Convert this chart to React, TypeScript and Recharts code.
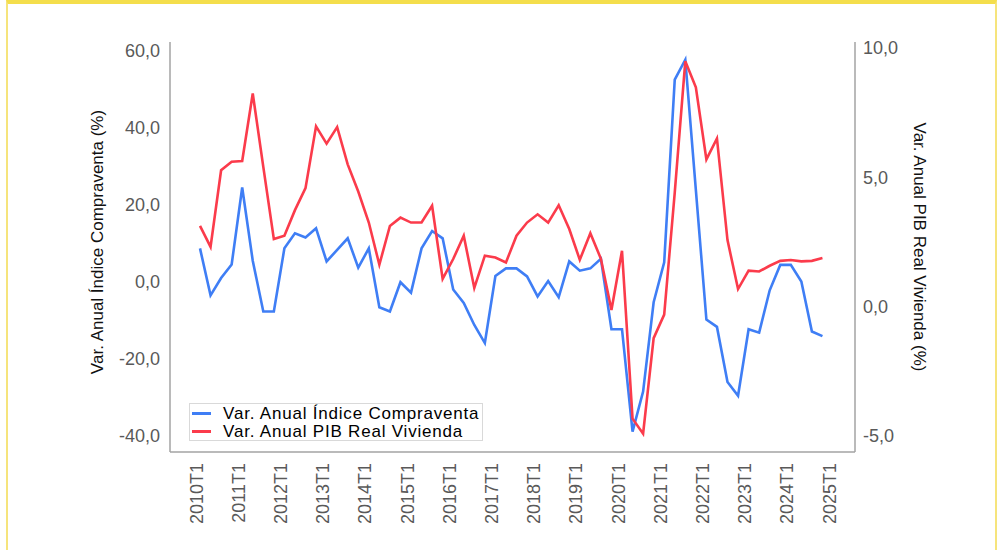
import React from 'react';
import { LineChart, Line, XAxis, YAxis, Legend } from 'recharts';

const QUARTERS = [
  '2010T1', '2010T2', '2010T3', '2010T4', '2011T1', '2011T2', '2011T3', '2011T4',
  '2012T1', '2012T2', '2012T3', '2012T4', '2013T1', '2013T2', '2013T3', '2013T4',
  '2014T1', '2014T2', '2014T3', '2014T4', '2015T1', '2015T2', '2015T3', '2015T4',
  '2016T1', '2016T2', '2016T3', '2016T4', '2017T1', '2017T2', '2017T3', '2017T4',
  '2018T1', '2018T2', '2018T3', '2018T4', '2019T1', '2019T2', '2019T3', '2019T4',
  '2020T1', '2020T2', '2020T3', '2020T4', '2021T1', '2021T2', '2021T3', '2021T4',
  '2022T1', '2022T2', '2022T3', '2022T4', '2023T1', '2023T2', '2023T3', '2023T4',
  '2024T1', '2024T2', '2024T3', '2024T4', '2025T1',
];

// Var. Anual Índice Compraventa (%) - left axis
const COMPRAVENTA = [
  8.7, -3.5, 1.0, 4.5, 24.5, 5.5, -7.7, -7.7, 8.7, 12.6,
  11.5, 13.9, 5.3, 8.3, 11.3, 3.7, 8.7, -6.6, -7.7, -0.1,
  -2.8, 8.7, 13.2, 11.3, -2.0, -5.5, -11.2, -15.9, 1.5, 3.5,
  3.5, 1.4, -3.8, 0.2, -4.0, 5.3, 2.9, 3.5, 6.0, -12.3,
  -12.3, -38.9, -28.5, -5.3, 5.1, 52.5, 57.7, 23.9, -9.8, -11.7,
  -26.0, -29.6, -12.3, -13.2, -2.2, 4.4, 4.4, 0.1, -12.9, -14.1,
];

// Var. Anual PIB Real Vivienda (%) - right axis
const PIB_VIVIENDA = [
  3.12, 2.31, 5.27, 5.6, 5.63, 8.24, 5.4, 2.61, 2.74, 3.73,
  4.58, 6.97, 6.3, 6.94, 5.5, 4.45, 3.25, 1.62, 3.12, 3.44,
  3.25, 3.25, 3.9, 1.07, 1.84, 2.74, 0.72, 1.97, 1.9, 1.71,
  2.74, 3.25, 3.57, 3.25, 3.92, 3.0, 1.81, 2.84, 1.85, -0.13,
  2.16, -4.33, -4.91, -1.22, -0.31, 4.41, 9.49, 8.48, 5.69, 6.5,
  2.57, 0.68, 1.39, 1.36, 1.58, 1.77, 1.8, 1.75, 1.77, 1.88,
];

const LEFT_TICKS = [-40, -20, 0, 20, 40, 60];
const RIGHT_TICKS = [-5, 0, 5, 10];

const SERIES_NAMES = ['Var. Anual Índice Compraventa', 'Var. Anual PIB Real Vivienda'];
const LEFT_TITLE = 'Var. Anual Índice Compraventa (%)';
const RIGHT_TITLE = 'Var. Anual PIB Real Vivienda (%)';

const data = QUARTERS.map((q, i) => ({
  q,
  compraventa: i < COMPRAVENTA.length ? COMPRAVENTA[i] : null,
  pib: i < PIB_VIVIENDA.length ? PIB_VIVIENDA[i] : null,
}));

const FONT = '"Liberation Sans", Arial, sans-serif';
const TICK_COLOR = '#595959';
const AXIS_COLOR = '#a3a3a3';
const BLUE = '#3f7ef5';
const RED = '#fb3b4b';

const fmt = (v: number) => v.toFixed(1).replace('.', ',');

const XTick = (props: any) => {
  const { x, y, payload } = props;
  const yy = y + 3;
  return (
    <text
      x={x}
      y={yy}
      transform={`rotate(-90 ${x} ${yy})`}
      textAnchor="end"
      dy={2.5}
      fill={TICK_COLOR}
      fontSize={18}
      fontFamily={FONT}
    >
      {payload.value}
    </text>
  );
};

const leftTitle = (props: any) => {
  const { viewBox } = props;
  const cx = viewBox.x + 7;
  const cy = viewBox.y + viewBox.height / 2 - 5;
  return (
    <text
      x={cx}
      y={cy}
      transform={`rotate(-90 ${cx} ${cy})`}
      textAnchor="middle"
      dy="0.35em"
      fill="#111"
      fontSize={17}
      fontFamily={FONT}
    >
      {LEFT_TITLE}
    </text>
  );
};

const rightTitle = (props: any) => {
  const { viewBox } = props;
  const cx = viewBox.x + 65;
  const cy = viewBox.y + viewBox.height / 2;
  return (
    <text
      x={cx}
      y={cy}
      transform={`rotate(90 ${cx} ${cy})`}
      textAnchor="middle"
      dy="0.35em"
      fill="#111"
      fontSize={17}
      fontFamily={FONT}
    >
      {RIGHT_TITLE}
    </text>
  );
};

const renderLegend = (props: any) => {
  const payload = [...(props.payload || [])].sort(
    (a: any, b: any) => SERIES_NAMES.indexOf(a.value) - SERIES_NAMES.indexOf(b.value)
  );
  return (
    <div
      style={{
        border: '1px solid #d9d9d9',
        background: '#fff',
        paddingLeft: 2,
        fontFamily: FONT,
        fontSize: 17,
        letterSpacing: 0.8,
        lineHeight: '19px',
        color: '#000',
        boxSizing: 'border-box',
        width: 294,
        height: 38,
      }}
    >
      {payload.map((p: any) => (
        <div key={p.value} style={{ display: 'flex', alignItems: 'center', whiteSpace: 'nowrap', height: 18 }}>
          <span style={{ display: 'inline-block', width: 19, height: 3, background: p.color, marginRight: 12 }} />
          <span>{p.value}</span>
        </div>
      ))}
    </div>
  );
};

export default function App() {
  return (
    <div style={{ position: 'absolute', left: 0, top: 0, width: 999, height: 550, overflow: 'hidden', background: '#fff' }}>
      <div
        style={{
          position: 'absolute',
          left: 6,
          top: 0,
          width: 987,
          height: 600,
          borderTop: '4px solid #f4de4c',
          borderLeft: '2px solid #f6e47c',
          borderRight: '2px solid #f6e47c',
        }}
      />
      <div style={{ position: 'absolute', left: 0, top: 0 }}>
        <LineChart width={999} height={550} data={data} margin={{ top: 42, right: 64, bottom: 18, left: 90 }}>
          <XAxis
            dataKey="q"
            interval={3}
            tickLine={false}
            tick={<XTick />}
            height={80}
            padding={{ left: 30, right: 22 }}
            axisLine={{ stroke: AXIS_COLOR, strokeWidth: 1.5 }}
          />
          <YAxis
            yAxisId="left"
            orientation="left"
            width={80}
            domain={[-44.2, 62.3]}
            ticks={LEFT_TICKS}
            tickFormatter={fmt}
            tickLine={false}
            tickMargin={4}
            axisLine={{ stroke: AXIS_COLOR, strokeWidth: 1.5 }}
            tick={{ fill: TICK_COLOR, fontSize: 18, fontFamily: FONT }}
            label={leftTitle}
            allowDataOverflow
          />
          <YAxis
            yAxisId="right"
            orientation="right"
            width={80}
            domain={[-5.62, 10.23]}
            ticks={RIGHT_TICKS}
            tickFormatter={fmt}
            tickLine={false}
            axisLine={{ stroke: AXIS_COLOR, strokeWidth: 1.5 }}
            tick={{ fill: TICK_COLOR, fontSize: 18, fontFamily: FONT }}
            label={rightTitle}
            allowDataOverflow
          />
          <Legend
            layout="horizontal"
            verticalAlign="middle"
            align="center"
            content={renderLegend}
            wrapperStyle={{ left: 189, top: 403, width: 294, height: 38 }}
          />
          <Line
            yAxisId="left"
            type="linear"
            dataKey="compraventa"
            name={SERIES_NAMES[0]}
            stroke={BLUE}
            strokeWidth={2.6}
            dot={false}
            activeDot={false}
            isAnimationActive={false}
          />
          <Line
            yAxisId="right"
            type="linear"
            dataKey="pib"
            name={SERIES_NAMES[1]}
            stroke={RED}
            strokeWidth={2.6}
            dot={false}
            activeDot={false}
            isAnimationActive={false}
          />
        </LineChart>
      </div>
    </div>
  );
}
